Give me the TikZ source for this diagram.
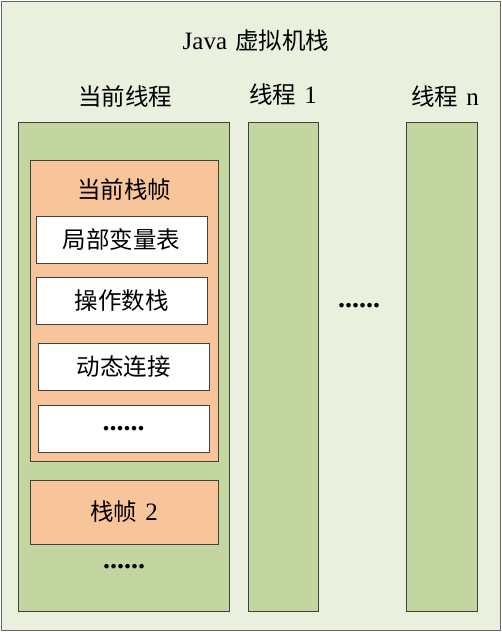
\documentclass[tikz,border=0pt]{standalone}
\usepackage{fontspec}
\setmainfont{Liberation Serif}
\newfontfamily\cjk{Noto Sans CJK SC}
\usepackage{tikz}
\usetikzlibrary{positioning}
\definecolor{bggreen}{RGB}{233,240,222}
\definecolor{thgreen}{RGB}{196,214,160}
\definecolor{frorange}{RGB}{248,196,154}
\tikzstyle{outerbox}=[rectangle,draw=black!60,fill=bggreen,line width=1.2pt,inner sep=0pt]
\tikzstyle{thread}=[rectangle,draw=black!75,fill=thgreen,line width=0.8pt,inner sep=0pt]
\tikzstyle{frame}=[rectangle,draw=black!75,fill=frorange,line width=0.8pt,inner sep=0pt]
\tikzstyle{slot}=[rectangle,draw=black!75,fill=white,line width=0.8pt,inner sep=0pt,minimum width=171pt,minimum height=47pt]
\tikzstyle{label}=[font=\fontsize{23.5}{26}\selectfont\cjk,inner sep=0pt]
\tikzstyle{dots}=[font=\fontsize{28}{30}\selectfont\bfseries,inner sep=0pt]
\newcommand{\lat}[1]{\hspace{0.35em}{\rmfamily\fontsize{25}{26}\selectfont #1}}

\begin{document}
\begin{tikzpicture}[x=1pt, y=-1pt]

    \useasboundingbox (0,0) rectangle (502,632);
    \node[outerbox, minimum width=499pt, minimum height=629pt] (vm) at (251,316) {};

    % titles
    \node[label] (title) at (256,41) {{\rmfamily\fontsize{25}{26}\selectfont Java}\hspace{0.35em}虚拟机栈};
    \node[label] (cur) at (125,97) {当前线程};
    \node[label] (t1) at (283,95) {线程\lat{1}};
    \node[label] (tn) at (445,97) {线程\lat{n}};

    % threads
    \node[thread, minimum width=211pt, minimum height=489pt] (T0) at (123.5,366.5) {};
    \node[thread, minimum width=70pt, minimum height=489pt] (T1) at (283,366.5) {};
    \node[thread, minimum width=71pt, minimum height=489pt] (Tn) at (441.5,366.5) {};
    \node[dots] (gap) at (359,306) {......};

    % current frame
    \node[frame, minimum width=188pt, minimum height=301pt] (F0) at (124,310.5) {};
    \node[label] (fname) at (124,190) {当前栈帧};

    \foreach \x/\y/\name/\txt in {121.5/239.5/S1/局部变量表, 121.5/300.5/S2/操作数栈, 123.5/366.5/S3/动态连接}
        \node[slot, label] (\name) at (\x,\y) {\txt};
    \node[slot] (S4) at (123.5,428.5) {};
    \node[dots] (S4dots) at (S4) {......};

    % second frame
    \node[frame, minimum width=188pt, minimum height=64pt, label] (F2) at (124,512) {栈帧\lat{2}};
    \node[dots] (more) at (124,567) {......};

\end{tikzpicture}
\end{document}
